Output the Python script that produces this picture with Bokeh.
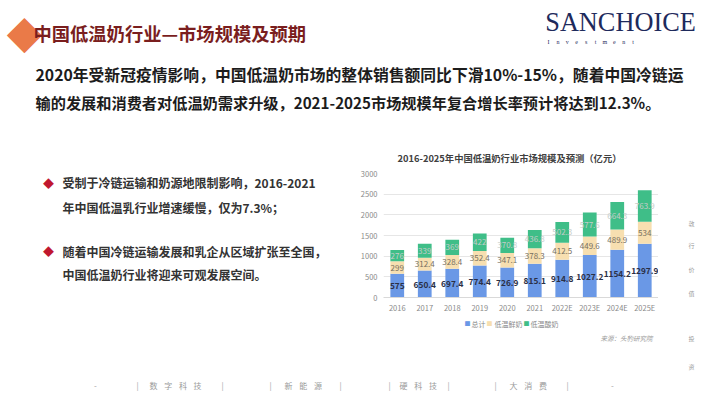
from bokeh.plotting import figure
from bokeh.layouts import column, row
from bokeh.models import Range1d, FactorRange, ColumnDataSource, FixedTicker
from bokeh.core.properties import value
from bokeh.embed import file_html
from bokeh.resources import INLINE

# ---- data ----
years = ["2016", "2017", "2018", "2019", "2020", "2021", "2022E", "2023E", "2024E", "2025E"]
total = [575, 650.4, 697.4, 774.4, 726.9, 815.1, 914.8, 1027.2, 1154.2, 1297.9]
fresh = [299, 312.4, 328.4, 352.4, 347.1, 378.3, 412.5, 449.6, 489.9, 534]
yogurt = [276, 339, 369, 422, 370.8, 436.8, 502.3, 577.6, 664.3, 763.9]
y_ticks = [0, 500, 1000, 1500, 2000, 2500, 3000]
series_names = ["总计", "低温鲜奶", "低温酸奶"]

CJK = "Noto Sans CJK SC"
BLUE, BEIGE, GREEN = "#6A98E6", "#F7DFB0", "#3FBE88"


def canvas(x0, y0, x1, y1):
    f = figure(width=x1 - x0, height=y1 - y0, x_range=Range1d(x0, x1), y_range=Range1d(y1, y0),
               output_backend="svg", toolbar_location=None,
               min_border=0, min_border_left=0, min_border_right=0,
               min_border_top=0, min_border_bottom=0)
    f.axis.visible = False
    f.grid.visible = False
    f.outline_line_color = None
    f.background_fill_color = "white"
    return f


def T(f, rx, ry, text, size, color="#333333", font=CJK, style="normal", align="left",
      baseline="middle", angle=0, alpha=1.0):
    f.text(x=[rx], y=[ry], text=[text], text_font=value(font), text_font_size=f"{size}px",
           text_color=color, text_font_style=style, text_align=align, text_baseline=baseline,
           angle=angle, text_alpha=alpha)


# ---------- regions (page pixel coords) ----------
A = canvas(0, 0, 710, 167)
B = canvas(0, 167, 355, 315)
D = canvas(658, 167, 710, 315)
E = canvas(0, 315, 710, 399)

# ---------- chart ----------
C = figure(width=303, height=148, x_range=FactorRange(*years, range_padding=0),
           y_range=Range1d(0, 3000), output_backend="svg", toolbar_location=None,
           min_border_left=28, min_border_right=0, min_border_top=6, min_border_bottom=16)
C.outline_line_color = None
C.background_fill_color = "white"

src = ColumnDataSource(dict(
    year=years, total=total, fresh=fresh, yogurt=yogurt,
    m1=[t / 2 for t in total],
    m2=[t + f / 2 for t, f in zip(total, fresh)],
    m3=[t + f + y / 2 for t, f, y in zip(total, fresh, yogurt)],
    l1=[f"{v:g}" for v in total],
    l2=[f"{v:g}" for v in fresh],
    l3=[f"{v:g}" for v in yogurt],
))

C.vbar_stack(["total", "fresh", "yogurt"], x="year", width=0.5, color=[BLUE, BEIGE, GREEN],
             line_color=None, source=src)

C.text(x="year", y="m1", text="l1", source=src, text_font=value(CJK), text_font_size="8.3px",
       text_font_style="bold", text_color="#2a2f45", text_align="center", text_baseline="middle")
C.text(x="year", y="m2", text="l2", source=src, text_font=value(CJK), text_font_size="8px",
       text_color="#77705f", text_align="center", text_baseline="middle")
C.text(x="year", y="m3", text="l3", source=src, text_font=value(CJK), text_font_size="8px",
       text_color="#c6ccc9", text_align="center", text_baseline="middle")

C.yaxis.ticker = FixedTicker(ticks=y_ticks)
C.yaxis.axis_line_color = None
C.yaxis.major_tick_line_color = None
C.yaxis.minor_tick_line_color = None
C.yaxis.major_tick_in = 0
C.yaxis.major_tick_out = 0
C.yaxis.major_label_text_font = CJK
C.yaxis.major_label_text_font_size = "7.5px"
C.yaxis.major_label_text_color = "#8a8a8a"
C.yaxis.major_label_standoff = 6
C.xaxis.axis_line_color = "#d9d9d9"
C.xaxis.major_tick_line_color = None
C.xaxis.major_tick_in = 0
C.xaxis.major_tick_out = 0
C.xaxis.major_label_text_font = CJK
C.xaxis.major_label_text_font_size = "7.5px"
C.xaxis.major_label_text_color = "#8a8a8a"
C.xaxis.major_label_standoff = 4
C.xgrid.grid_line_color = None
C.ygrid.grid_line_color = "#e6e6e6"
C.ygrid.ticker = FixedTicker(ticks=y_ticks)

# ---------- header ----------
T(A, 24, 33, "◆", 36, color="#E8672E", align="center", alpha=0.9)
T(A, 33, 32, "中国低温奶行业—市场规模及预期", 18.3, color="#7A1E1E", style="bold")
T(A, 620, 22, "SANCHOICE", 26.3, color="#1E2A5C", font="Liberation Serif", align="center")
for i, ch in enumerate("Investment"):
    T(A, 548 + i * 9.4, 41, ch, 6, color="#1E2A5C", font="Liberation Serif", align="center")

T(A, 35, 74, "2020年受新冠疫情影响，中国低温奶市场的整体销售额同比下滑10%-15%，随着中国冷链运", 15.8,
  color="#1c1c1c", style="bold")
T(A, 35, 101, "输的发展和消费者对低温奶需求升级，2021-2025市场规模年复合增长率预计将达到12.3%。", 15.2,
  color="#1c1c1c", style="bold")

T(A, 509, 157, "2016-2025年中国低温奶行业市场规模及预测（亿元）", 9.3, color="#404040",
  style="bold", align="center")

# ---------- bullets ----------
T(B, 48, 178, "◆", 11, color="#C0172F", align="center")
T(B, 62, 178, "受制于冷链运输和奶源地限制影响，2016-2021", 12, color="#333333", style="bold")
T(B, 62, 207, "年中国低温乳行业增速缓慢，仅为7.3%；", 12, color="#333333", style="bold")
T(B, 48, 260, "◆", 11, color="#C0172F", align="center")
T(B, 62, 260, "随着中国冷链运输发展和乳企从区域扩张至全国，", 12, color="#333333", style="bold")
T(B, 62, 288, "中国低温奶行业将迎来可观发展空间。", 12, color="#333333", style="bold")

# ---------- legend, source ----------
for name, col, sx, tx in [(series_names[0], BLUE, 467, 471), (series_names[1], BEIGE, 489, 494),
                          (series_names[2], GREEN, 526, 530)]:
    T(E, sx, 323, "■", 6, color=col, align="center")
    T(E, tx, 323, name, 7, color="#8a8a8a")

T(E, 600, 337, "来源：头豹研究院", 6.5, color="#9a9a9a", style="italic")

# ---------- right vertical text ----------
for ch, yy in zip("敦行价值投资", [227, 253, 281, 310, 338, 366]):
    T(D if yy < 315 else E, 691, yy, ch, 6, color="#9a9a9a", align="center")

# ---------- bottom bar ----------
for txt, xx in [("-", 95), ("|", 137), ("|", 222), ("|", 270), ("|", 340), ("|", 389),
                ("|", 448), ("|", 495), ("|", 567), ("-", 612)]:
    T(E, xx, 385, txt, 8, color="#a0a0a0", align="center")
for word, x0 in [("数字科技", 153), ("新能源", 288), ("硬科技", 403), ("大消费", 513)]:
    for i, ch in enumerate(word):
        T(E, x0 + i * 14.7, 385, ch, 8, color="#9a9a9a", align="center")

page = column(A, row(B, C, D), E)
open("out.html", "w").write(file_html(page, INLINE))
